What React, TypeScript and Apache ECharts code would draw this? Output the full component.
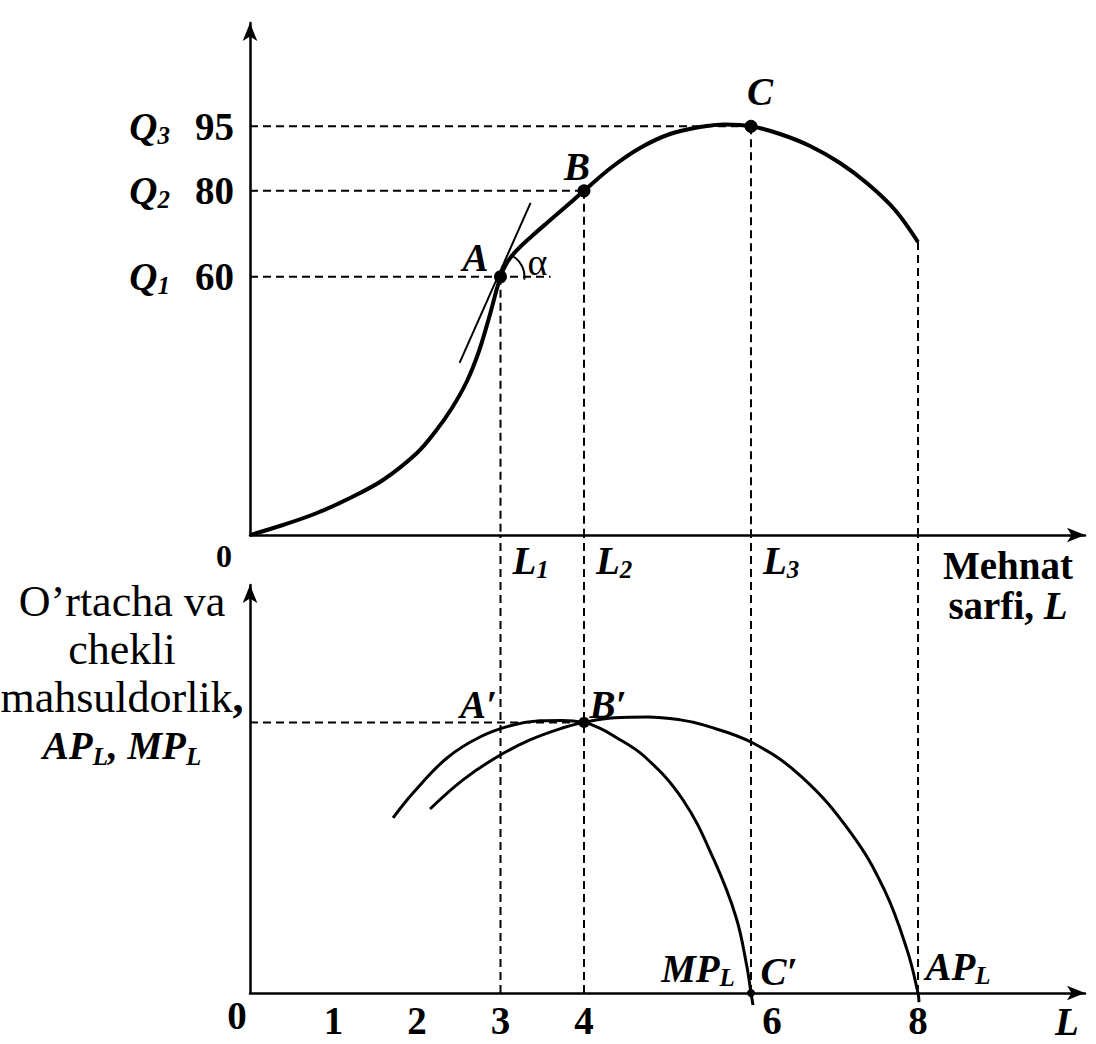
import React, { useEffect, useRef } from "react";
import * as echarts from "echarts";

// ---------------- data ----------------
const L_MAX = 10;
const Q_MAX = 119;
const AP_MAX = 98;

// Total product curve TP(L), top panel
const tpL = [0, 0.395, 0.802, 1.198, 1.593, 2.0, 2.216, 2.419, 2.599, 2.743, 2.862, 3, 3.09, 3.21, 3.377, 3.569, 3.784, 4, 4.335, 4.671, 5.03, 5.389, 5.689, 6, 6.347, 6.707, 7.066, 7.401, 7.725, 8];
const tpQ = [0, 2.32, 5.11, 8.6, 12.78, 19.06, 23.94, 29.52, 35.79, 42.77, 50.44, 60, 63.68, 66.47, 69.49, 72.75, 76.35, 80, 85.53, 89.95, 93.2, 94.83, 95.41, 95, 93.2, 90.41, 86.46, 81.58, 75.54, 68.1];

// tangent to TP at A
const tangentL = [2.51, 3.36];
const tangentQ = [40, 77.2];

// marked points on TP
const pointNames = ["A", "B", "C"];
const pointL = [3, 4, 6];
const pointQ = [60, 80, 95];
const qSubs = ["1", "2", "3"];
const lSubs = ["1", "2", "3"];
const aGuideEndL = 3.6;

// Marginal product MP_L, bottom panel
const mpL = [1.713, 1.952, 2.359, 2.754, 3.15, 3.473, 3.737, 4, 4.168, 4.347, 4.731, 5.186, 5.557, 5.82, 5.952, 6, 6.024];
const mpV = [42.04, 48.04, 56.45, 61.49, 64.38, 65.38, 65.48, 65, 63.78, 61.86, 56.69, 46.36, 31.95, 18.26, 6.25, 0, -2.88];

// Average product AP_L, bottom panel
const apL = [2.156, 2.551, 2.958, 3.353, 3.749, 4, 4.365, 4.766, 5.156, 5.427, 6.017, 6.607, 7.198, 7.599, 7.87, 8, 8.012];
const apV = [44.2, 51.2, 56.7, 60.8, 63.7, 65, 66.1, 66.3, 65.6, 64.4, 60.1, 51.9, 38.4, 24.7, 10.3, 0, -2.2];

const bPrimeL = 4;
const bPrimeV = 65;
const aPrimeL = 3;
const cPrimeL = 6;
const apZeroL = 8;
const guideLs = [3, 4, 6, 8];
const bottomTicks = [1, 2, 3, 4, 6, 8];

// ---------------- styles / layout ----------------
const FONT = "'Liberation Serif', 'Times New Roman', Times, serif";
const BLACK = "#000";
const W = 1096;
const H = 1044;
const G1 = { left: 250, right: 11, top: 23, bottom: 509 };
const G2 = { left: 250, right: 11, top: 585, bottom: 51 };
const EXT = (AP_MAX * ((H - G2.bottom) - (H - G1.bottom))) / ((H - G2.bottom) - G2.top);

const bold: any = { fontFamily: FONT, fontSize: 39, fontWeight: "bold", color: BLACK, lineHeight: 38 };
const boldIt: any = { ...bold, fontStyle: "italic" };
const subIt: any = { ...boldIt, fontSize: 25, lineHeight: 25, padding: [18, 0, 0, 0] };

const pairs = (xs: number[], ys: number[]) => xs.map((x, i) => [x, ys[i]]);

const guide = (grid: number, pts: number[][], clip = true) => ({
  type: "line",
  xAxisIndex: grid,
  yAxisIndex: grid,
  data: pts,
  symbol: "none",
  silent: true,
  clip,
  z: 1,
  lineStyle: { color: BLACK, width: 2, type: [8, 5] },
});

const curve = (grid: number, xs: number[], ys: number[], width: number, smooth = 0.4) => ({
  type: "line",
  xAxisIndex: grid,
  yAxisIndex: grid,
  data: pairs(xs, ys),
  symbol: "none",
  smooth,
  clip: false,
  silent: true,
  z: 3,
  lineStyle: { color: BLACK, width },
});

const marker = (
  grid: number,
  value: number[],
  text: string,
  offset: number[],
  size: number,
  rich?: any,
  extra?: any
) => ({
  type: "scatter",
  xAxisIndex: grid,
  yAxisIndex: grid,
  data: [value],
  symbolSize: size,
  itemStyle: { color: BLACK, opacity: 1 },
  silent: true,
  clip: false,
  z: 5,
  label: {
    show: true,
    position: "inside",
    offset,
    formatter: () => text,
    ...boldIt,
    opacity: 1,
    rich,
    ...(extra || {}),
  },
});

const axisLine = {
  onZero: false,
  lineStyle: { color: BLACK, width: 2.5 },
  symbol: ["none", "arrow"],
  symbolSize: [11, 18],
};

function buildOption(): any {
  const series: any[] = [];
  // guides (dashed)
  pointL.forEach((l, i) => {
    const endL = i === 0 ? aGuideEndL : l;
    series.push(guide(0, [[0, pointQ[i]], [endL, pointQ[i]]]));
    series.push(guide(0, [[l, pointQ[i]], [l, 0]]));
  });
  series.push(guide(0, [[apZeroL, tpQ[tpQ.length - 1]], [apZeroL, 0]]));
  guideLs.forEach((l) => series.push(guide(1, [[l, 0], [l, EXT]], false)));
  series.push(guide(1, [[0, bPrimeV], [bPrimeL, bPrimeV]]));

  // curves
  series.push(curve(0, tpL, tpQ, 4, 0.35));
  series.push(curve(0, tangentL, tangentQ, 2, 0));
  series.push(curve(1, mpL, mpV, 3));
  series.push(curve(1, apL, apV, 3));

  // points on TP
  const topOffsets = [[-25, -19], [-7, -24], [9, -35]];
  pointL.forEach((l, i) => series.push(marker(0, [l, pointQ[i]], pointNames[i], topOffsets[i], 13)));
  series.push(
    marker(0, [pointL[0], pointQ[0]], "α", [37, -15], 0, undefined, {
      fontStyle: "normal",
      fontWeight: "normal",
      fontSize: 38,
    })
  );
  series.push(
    marker(0, [0, 0], "0", [-26, 21], 0, undefined, { fontStyle: "normal", fontSize: 32, lineHeight: 22 })
  );

  // bottom panel points
  series.push(marker(1, [bPrimeL, bPrimeV], "B′", [24, -18], 11));
  series.push(marker(1, [aPrimeL, bPrimeV], "A′", [-22, -18], 0));
  series.push(marker(1, [cPrimeL, 0], "C′", [28, -22], 8));
  series.push(marker(1, [cPrimeL, 0], "{m|MP}{s|L}", [-53, -25], 0, { m: boldIt, s: subIt }));
  series.push(marker(1, [apZeroL, 0], "{m|AP}{s|L}", [40, -27], 0, { m: boldIt, s: subIt }));
  series.push(marker(1, [0, 0], "0", [-13, 22], 0, undefined, { fontStyle: "normal" }));

  return {
    animation: false,
    backgroundColor: "#fff",
    grid: [
      { ...G1, containLabel: false },
      { ...G2, containLabel: false },
    ],
    xAxis: [
      {
        gridIndex: 0,
        type: "value",
        min: 0,
        max: L_MAX,
        interval: 1,
        splitLine: { show: false },
        axisTick: { show: false },
        axisLine,
        axisLabel: {
          margin: 6,
          align: "left",
          formatter: (v: number) => {
            const i = pointL.indexOf(v);
            return i < 0 ? "" : `{l|L}{s|${lSubs[i]}}`;
          },
          rich: { l: { ...boldIt, padding: [0, 0, 0, 12] }, s: subIt },
        },
      },
      {
        gridIndex: 1,
        type: "value",
        min: 0,
        max: L_MAX,
        interval: 1,
        splitLine: { show: false },
        axisTick: { show: false },
        axisLine,
        axisLabel: {
          margin: 8,
          formatter: (v: number) => {
            if (bottomTicks.indexOf(v) < 0) return "";
            return v === cPrimeL ? `{p|${v}}` : `{n|${v}}`;
          },
          rich: { n: bold, p: { ...bold, padding: [0, 0, 0, 42] } },
        },
      },
    ],
    yAxis: [
      {
        gridIndex: 0,
        type: "value",
        min: 0,
        max: Q_MAX,
        interval: 5,
        splitLine: { show: false },
        axisTick: { show: false },
        axisLine,
        axisLabel: {
          margin: 16,
          formatter: (v: number) => {
            const i = pointQ.indexOf(v);
            return i < 0 ? "" : `{q|Q}{s|${qSubs[i]}}{n|${v}}`;
          },
          rich: { q: boldIt, s: subIt, n: { ...bold, padding: [0, 0, 0, 25] } },
        },
      },
      {
        gridIndex: 1,
        type: "value",
        min: 0,
        max: AP_MAX,
        splitLine: { show: false },
        axisTick: { show: false },
        axisLabel: { show: false },
        axisLine,
      },
    ],
    series,
  };
}

export default function App() {
  const ref = useRef<HTMLDivElement>(null);
  useEffect(() => {
    document.body.style.margin = "0";
    if (!ref.current) return;
    const chart = echarts.init(ref.current, null, { renderer: "svg" });
    chart.setOption(buildOption());

    const a = chart.convertToPixel({ xAxisIndex: 0, yAxisIndex: 0 }, [pointL[0], pointQ[0]]) as number[];
    const regular = { fontFamily: FONT, fontSize: 44, color: BLACK, lineHeight: 48 };
    chart.setOption({
      graphic: [
        {
          type: "arc",
          silent: true,
          z: 10,
          shape: { cx: a[0], cy: a[1], r: 24, startAngle: -1.15, endAngle: 0.12, clockwise: true },
          style: { stroke: BLACK, lineWidth: 2, fill: "none" },
        },
        {
          type: "text",
          silent: true,
          x: 1008,
          y: 585,
          style: {
            text: "{b|Mehnat}\n{b|sarfi, }{bi|L}",
            align: "center",
            verticalAlign: "middle",
            rich: { b: { ...bold, lineHeight: 40 }, bi: { ...boldIt, lineHeight: 40 } },
          },
        },
        {
          type: "text",
          silent: true,
          x: 122,
          y: 673,
          style: {
            text: "{r|O’rtacha va}\n{r|chekli}\n{r|mahsuldorlik}{b|,}\n{bi|AP}{s|L}{bi|, MP}{s|L}",
            align: "center",
            verticalAlign: "middle",
            rich: {
              r: regular,
              b: { ...bold, fontSize: 44, lineHeight: 48 },
              bi: { ...boldIt, lineHeight: 48 },
              s: { ...subIt, padding: [22, 0, 0, 0] },
            },
          },
        },
        {
          type: "text",
          silent: true,
          x: 1067,
          y: 1021,
          style: { text: "L", align: "center", verticalAlign: "middle", ...boldIt, lineHeight: 28 },
        },
      ],
    });
    return () => chart.dispose();
  }, []);
  return <div ref={ref} style={{ width: W, height: H }} />;
}
